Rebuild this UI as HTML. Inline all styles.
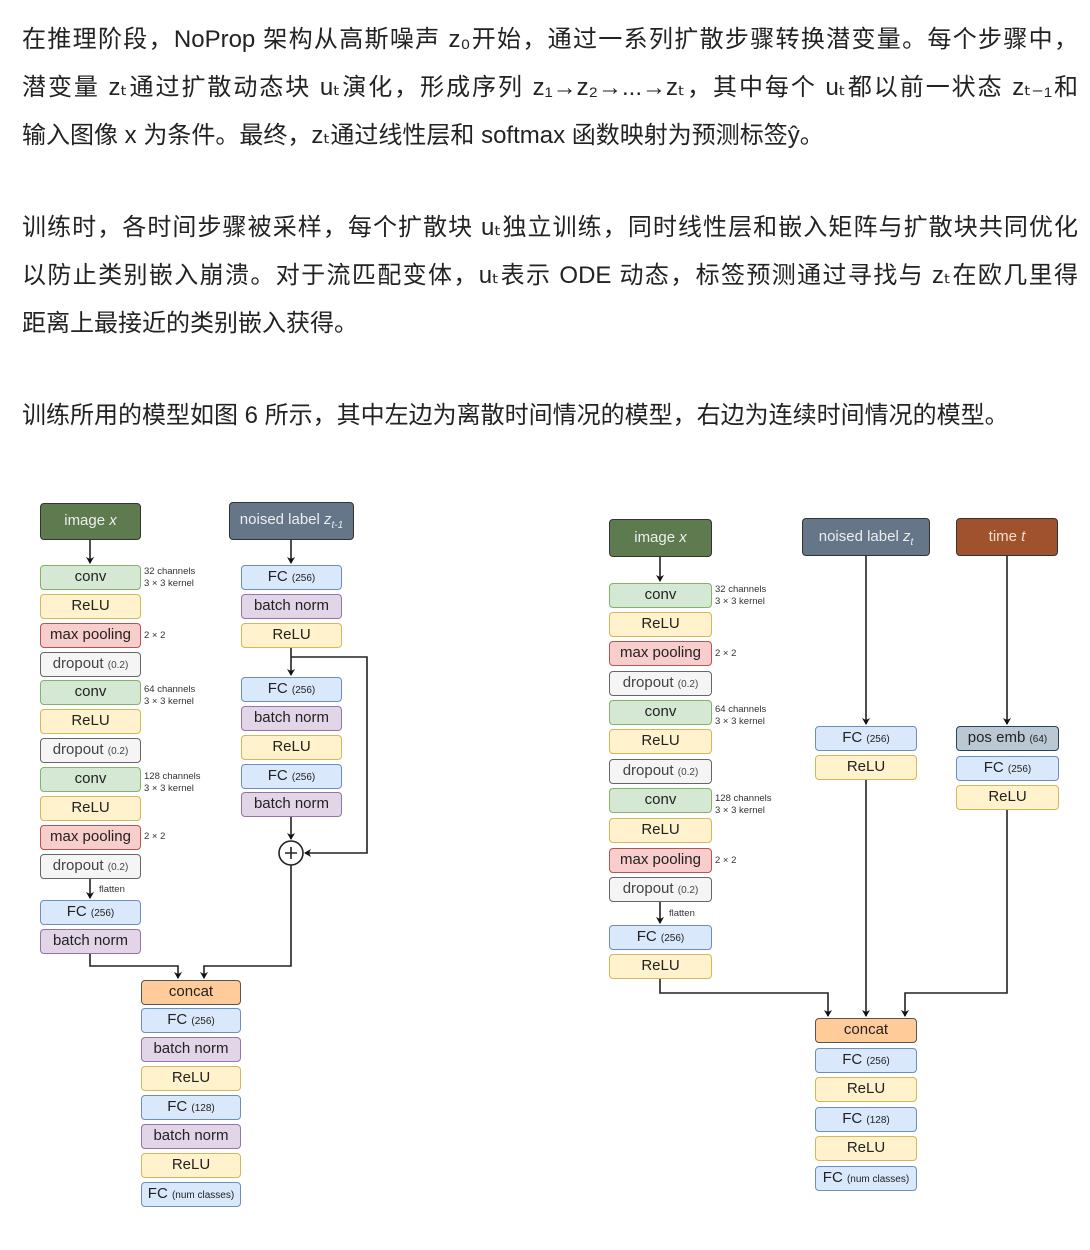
<!DOCTYPE html>
<html><head><meta charset="utf-8">
<style>
body{margin:0;background:#fff;width:1090px;height:1250px;position:relative;overflow:hidden;font-family:"Liberation Sans","Noto Sans CJK SC",sans-serif;}
.t{position:absolute;left:22px;width:1056px;font-size:24px;color:#222;white-space:nowrap;text-align:justify;text-align-last:justify;line-height:30px;}
.tl{text-align-last:left;}
.b{position:absolute;box-sizing:border-box;border:1.5px solid;border-radius:4px;text-align:center;font-size:15px;color:#222;white-space:nowrap;}
.b small{font-size:10px;}
.g{background:#d5e8d4;border-color:#82b366}
.y{background:#fff2cc;border-color:#d6b656}
.r{background:#f8cecc;border-color:#b85450}
.d{background:#f5f5f5;border-color:#666;color:#444}
.f{background:#dae8fc;border-color:#6c8ebf}
.p{background:#e1d5e7;border-color:#9673a6}
.o{background:#ffcc99;border-color:#555}
.pe{background:#bac8d3;border-color:#23445d}
.h{color:#eee;font-size:15px;border-color:#333}
.n{position:absolute;font-size:9.5px;color:#333;line-height:12px;white-space:nowrap}
svg{position:absolute;left:0;top:0}
</style></head><body>
<div class="t" style="top:25px">在推理阶段，NoProp 架构从高斯噪声 z₀开始，通过一系列扩散步骤转换潜变量。每个步骤中，</div>
<div class="t" style="top:73px">潜变量 zₜ通过扩散动态块 uₜ演化，形成序列 z₁→z₂→...→zₜ，其中每个 uₜ都以前一状态 zₜ₋₁和</div>
<div class="t tl" style="top:121px">输入图像 x 为条件。最终，zₜ通过线性层和 softmax 函数映射为预测标签ŷ。</div>
<div class="t" style="top:213px">训练时，各时间步骤被采样，每个扩散块 uₜ独立训练，同时线性层和嵌入矩阵与扩散块共同优化</div>
<div class="t" style="top:261px">以防止类别嵌入崩溃。对于流匹配变体，uₜ表示 ODE 动态，标签预测通过寻找与 zₜ在欧几里得</div>
<div class="t tl" style="top:309px">距离上最接近的类别嵌入获得。</div>
<div class="t tl" style="top:401px">训练所用的模型如图 6 所示，其中左边为离散时间情况的模型，右边为连续时间情况的模型。</div>

<svg width="1090" height="1250">
<defs><marker id="a" markerWidth="8" markerHeight="8" refX="6" refY="4" orient="auto" markerUnits="userSpaceOnUse"><path d="M0,0 L7,4 L0,8 L2,4z" fill="#111"/></marker></defs>
<g stroke="#222" stroke-width="1.6" fill="none">
<path d="M90,540 V563" marker-end="url(#a)"/>
<path d="M90,879 V898" marker-end="url(#a)"/>
<path d="M291,540 V563" marker-end="url(#a)"/>
<path d="M291,648 V675" marker-end="url(#a)"/>
<path d="M291,817 V839" marker-end="url(#a)"/>
<path d="M291,657 H367 V853 H305" marker-end="url(#a)"/>
<path d="M90,954 V966 H178 V978" marker-end="url(#a)"/>
<path d="M291,865 V966 H204 V978" marker-end="url(#a)"/>
<path d="M660,557 V581" marker-end="url(#a)"/>
<path d="M660,902 V923" marker-end="url(#a)"/>
<path d="M866,556 V724" marker-end="url(#a)"/>
<path d="M1007,556 V724" marker-end="url(#a)"/>
<path d="M660,979 V993 H828 V1016" marker-end="url(#a)"/>
<path d="M866,780 V1016" marker-end="url(#a)"/>
<path d="M1007,810 V993 H905 V1016" marker-end="url(#a)"/>
</g>
<circle cx="291" cy="853" r="12" fill="#fff" stroke="#222" stroke-width="1.6"/>
<path d="M285,853 H297 M291,847 V859" stroke="#222" stroke-width="1.6"/>
</svg>

<!-- left -->
<div class="b h" style="left:40px;top:503px;width:101px;height:37px;line-height:34px;background:#5d7b4e;">image <i>x</i></div>
<div class="b g" style="left:40px;top:565px;width:101px;height:25px;line-height:22px">conv</div>
<div class="b y" style="left:40px;top:594px;width:101px;height:25px;line-height:22px">ReLU</div>
<div class="b r" style="left:40px;top:623px;width:101px;height:25px;line-height:22px">max pooling</div>
<div class="b d" style="left:40px;top:652px;width:101px;height:25px;line-height:22px">dropout <small>(0.2)</small></div>
<div class="b g" style="left:40px;top:680px;width:101px;height:25px;line-height:22px">conv</div>
<div class="b y" style="left:40px;top:709px;width:101px;height:25px;line-height:22px">ReLU</div>
<div class="b d" style="left:40px;top:738px;width:101px;height:25px;line-height:22px">dropout <small>(0.2)</small></div>
<div class="b g" style="left:40px;top:767px;width:101px;height:25px;line-height:22px">conv</div>
<div class="b y" style="left:40px;top:796px;width:101px;height:25px;line-height:22px">ReLU</div>
<div class="b r" style="left:40px;top:825px;width:101px;height:25px;line-height:22px">max pooling</div>
<div class="b d" style="left:40px;top:854px;width:101px;height:25px;line-height:22px">dropout <small>(0.2)</small></div>
<div class="b f" style="left:40px;top:900px;width:101px;height:25px;line-height:22px">FC <small>(256)</small></div>
<div class="b p" style="left:40px;top:929px;width:101px;height:25px;line-height:22px">batch norm</div>
<div class="n" style="left:144px;top:566px">32 channels<br>3 × 3 kernel</div>
<div class="n" style="left:144px;top:630px">2 × 2</div>
<div class="n" style="left:144px;top:684px">64 channels<br>3 × 3 kernel</div>
<div class="n" style="left:144px;top:771px">128 channels<br>3 × 3 kernel</div>
<div class="n" style="left:144px;top:831px">2 × 2</div>
<div class="n" style="left:99px;top:884px">flatten</div>

<div class="b h" style="left:229px;top:502px;width:125px;height:38px;line-height:34px;background:#647687;">noised label <i>z<sub style="font-size:10px">t-1</sub></i></div>
<div class="b f" style="left:241px;top:565px;width:101px;height:25px;line-height:22px">FC <small>(256)</small></div>
<div class="b p" style="left:241px;top:594px;width:101px;height:25px;line-height:22px">batch norm</div>
<div class="b y" style="left:241px;top:623px;width:101px;height:25px;line-height:22px">ReLU</div>
<div class="b f" style="left:241px;top:677px;width:101px;height:25px;line-height:22px">FC <small>(256)</small></div>
<div class="b p" style="left:241px;top:706px;width:101px;height:25px;line-height:22px">batch norm</div>
<div class="b y" style="left:241px;top:735px;width:101px;height:25px;line-height:22px">ReLU</div>
<div class="b f" style="left:241px;top:764px;width:101px;height:25px;line-height:22px">FC <small>(256)</small></div>
<div class="b p" style="left:241px;top:792px;width:101px;height:25px;line-height:22px">batch norm</div>

<div class="b o" style="left:141px;top:980px;width:100px;height:25px;line-height:22px">concat</div>
<div class="b f" style="left:141px;top:1008px;width:100px;height:25px;line-height:22px">FC <small>(256)</small></div>
<div class="b p" style="left:141px;top:1037px;width:100px;height:25px;line-height:22px">batch norm</div>
<div class="b y" style="left:141px;top:1066px;width:100px;height:25px;line-height:22px">ReLU</div>
<div class="b f" style="left:141px;top:1095px;width:100px;height:25px;line-height:22px">FC <small>(128)</small></div>
<div class="b p" style="left:141px;top:1124px;width:100px;height:25px;line-height:22px">batch norm</div>
<div class="b y" style="left:141px;top:1153px;width:100px;height:25px;line-height:22px">ReLU</div>
<div class="b f" style="left:141px;top:1182px;width:100px;height:25px;line-height:22px">FC <small>(num classes)</small></div>

<!-- right -->
<div class="b h" style="left:609px;top:519px;width:103px;height:38px;line-height:35px;background:#5d7b4e;">image <i>x</i></div>
<div class="b g" style="left:609px;top:583px;width:103px;height:25px;line-height:22px">conv</div>
<div class="b y" style="left:609px;top:612px;width:103px;height:25px;line-height:22px">ReLU</div>
<div class="b r" style="left:609px;top:641px;width:103px;height:25px;line-height:22px">max pooling</div>
<div class="b d" style="left:609px;top:671px;width:103px;height:25px;line-height:22px">dropout <small>(0.2)</small></div>
<div class="b g" style="left:609px;top:700px;width:103px;height:25px;line-height:22px">conv</div>
<div class="b y" style="left:609px;top:729px;width:103px;height:25px;line-height:22px">ReLU</div>
<div class="b d" style="left:609px;top:759px;width:103px;height:25px;line-height:22px">dropout <small>(0.2)</small></div>
<div class="b g" style="left:609px;top:788px;width:103px;height:25px;line-height:22px">conv</div>
<div class="b y" style="left:609px;top:818px;width:103px;height:25px;line-height:22px">ReLU</div>
<div class="b r" style="left:609px;top:848px;width:103px;height:25px;line-height:22px">max pooling</div>
<div class="b d" style="left:609px;top:877px;width:103px;height:25px;line-height:22px">dropout <small>(0.2)</small></div>
<div class="b f" style="left:609px;top:925px;width:103px;height:25px;line-height:22px">FC <small>(256)</small></div>
<div class="b y" style="left:609px;top:954px;width:103px;height:25px;line-height:22px">ReLU</div>
<div class="n" style="left:715px;top:584px">32 channels<br>3 × 3 kernel</div>
<div class="n" style="left:715px;top:648px">2 × 2</div>
<div class="n" style="left:715px;top:704px">64 channels<br>3 × 3 kernel</div>
<div class="n" style="left:715px;top:793px">128 channels<br>3 × 3 kernel</div>
<div class="n" style="left:715px;top:855px">2 × 2</div>
<div class="n" style="left:669px;top:908px">flatten</div>

<div class="b h" style="left:802px;top:518px;width:128px;height:38px;line-height:35px;background:#647687;">noised label <i>z<sub style="font-size:10px">t</sub></i></div>
<div class="b f" style="left:815px;top:726px;width:102px;height:25px;line-height:22px">FC <small>(256)</small></div>
<div class="b y" style="left:815px;top:755px;width:102px;height:25px;line-height:22px">ReLU</div>

<div class="b h" style="left:956px;top:518px;width:102px;height:38px;line-height:35px;background:#a0522d;color:#f3e0cf">time <i>t</i></div>
<div class="b pe" style="left:956px;top:726px;width:103px;height:25px;line-height:22px">pos emb <small>(64)</small></div>
<div class="b f" style="left:956px;top:756px;width:103px;height:25px;line-height:22px">FC <small>(256)</small></div>
<div class="b y" style="left:956px;top:785px;width:103px;height:25px;line-height:22px">ReLU</div>

<div class="b o" style="left:815px;top:1018px;width:102px;height:25px;line-height:22px">concat</div>
<div class="b f" style="left:815px;top:1048px;width:102px;height:25px;line-height:22px">FC <small>(256)</small></div>
<div class="b y" style="left:815px;top:1077px;width:102px;height:25px;line-height:22px">ReLU</div>
<div class="b f" style="left:815px;top:1107px;width:102px;height:25px;line-height:22px">FC <small>(128)</small></div>
<div class="b y" style="left:815px;top:1136px;width:102px;height:25px;line-height:22px">ReLU</div>
<div class="b f" style="left:815px;top:1166px;width:102px;height:25px;line-height:22px">FC <small>(num classes)</small></div>
</body></html>
